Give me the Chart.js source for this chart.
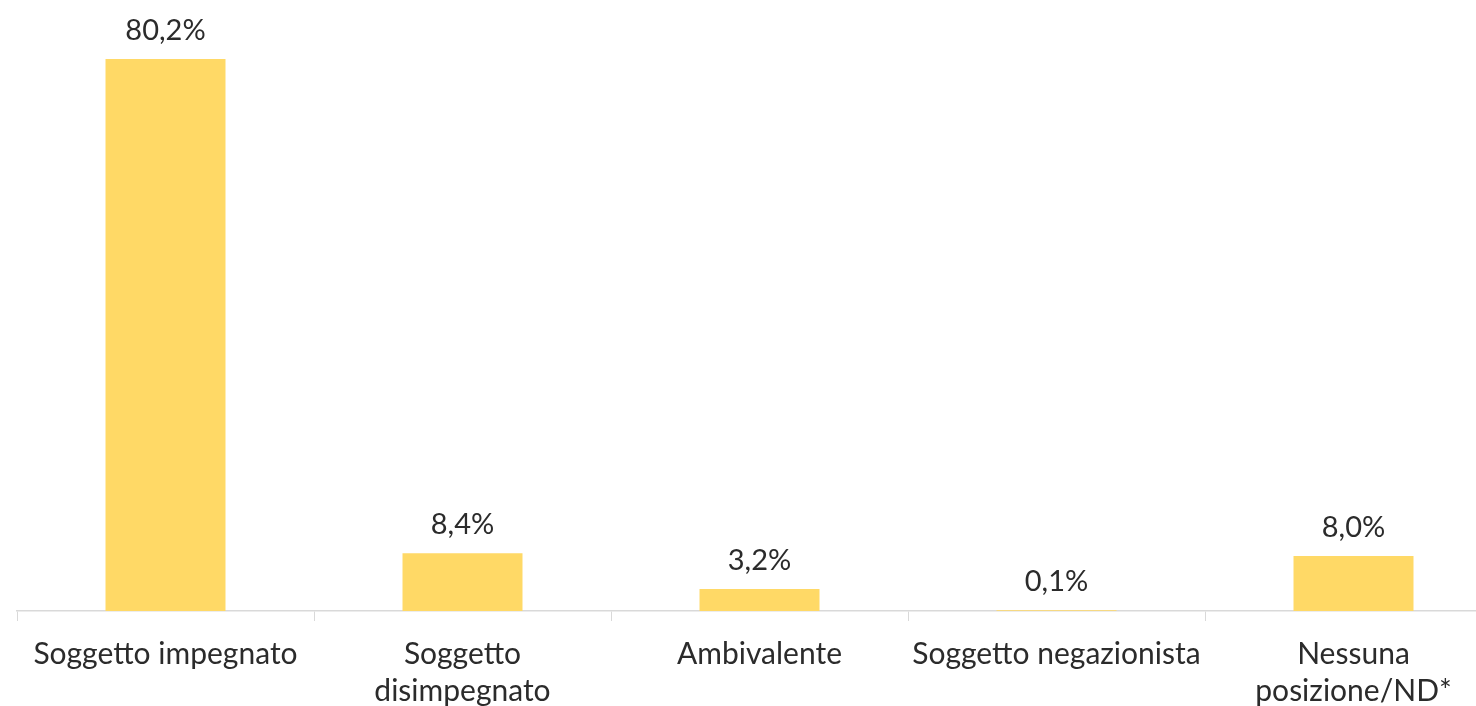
<!DOCTYPE html>
<html>
<head>
<meta charset="utf-8">
<script src="https://cdn.jsdelivr.net/npm/chart.js@4.4.1/dist/chart.umd.min.js"></script>
<style>
  html, body { margin: 0; padding: 0; background: #fff; overflow: hidden; }
  #wrap { position: relative; width: 1519px; height: 706px; }
</style>
</head>
<body>
<div id="wrap"><canvas id="chart"></canvas></div>
<script>
const categories = [
  "Soggetto impegnato",
  ["Soggetto", "disimpegnato"],
  "Ambivalente",
  "Soggetto negazionista",
  ["Nessuna", "posizione/ND*"]
];
const values = [80.2, 8.4, 3.2, 0.1, 8.0];

const FONT = "Lato, 'Open Sans', sans-serif";
const TEXT = "#2b2b2b";

/* labels above bars */
const valueLabels = {
  id: "valueLabels",
  afterDatasetsDraw(chart) {
    const ctx = chart.ctx;
    const meta = chart.getDatasetMeta(0);
    ctx.save();
    ctx.font = "29px " + FONT;
    ctx.fillStyle = TEXT;
    ctx.textAlign = "center";
    ctx.textBaseline = "bottom";
    meta.data.forEach((bar, i) => {
      const txt = values[i].toFixed(1).replace(".", ",") + "%";
      ctx.fillText(txt, bar.x, bar.y - 14);
    });
    ctx.restore();
  }
};

new Chart(document.getElementById("chart"), {
  type: "bar",
  data: {
    labels: categories,
    datasets: [{
      data: values,
      backgroundColor: "#FFD966",
      categoryPercentage: 1,
      barPercentage: 0.404
    }]
  },
  options: {
    responsive: true,
    maintainAspectRatio: false,
    animation: false,
    layout: { padding: { left: 17, right: 17, top: 0, bottom: 0 } },
    plugins: { legend: { display: false }, tooltip: { enabled: false } },
    scales: {
      y: { display: false, min: 0, max: 88.77 },
      x: {
        offset: true,
        grid: {
          offset: true,
          drawOnChartArea: false,
          tickLength: 10,
          color: "#d9d9d9"
        },
        border: { color: "#d9d9d9", width: 1.5 },
        ticks: {
          color: TEXT,
          font: { family: FONT, size: 30, lineHeight: 1.26 },
          padding: 14,
          maxRotation: 0,
          autoSkip: false
        },
        afterFit(scale) { scale.height = 95; }
      }
    }
  },
  plugins: [valueLabels]
});
</script>
</body>
</html>
